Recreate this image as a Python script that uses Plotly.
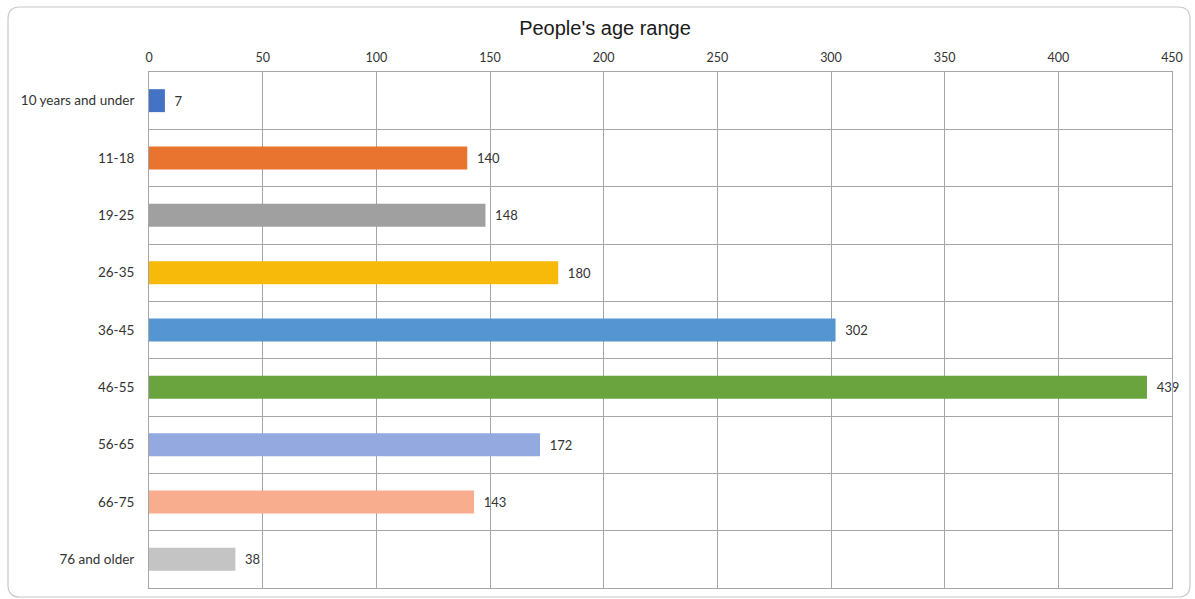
import plotly.graph_objects as go

categories = ["10 years and under", "11-18", "19-25", "26-35", "36-45",
              "46-55", "56-65", "66-75", "76 and older"]
values = [7, 140, 148, 180, 302, 439, 172, 143, 38]
colors = ["#4472C4", "#E8742F", "#A0A0A0", "#F7BA0B", "#5596D2",
          "#6AA43F", "#93A9E0", "#F7AD8E", "#C4C4C4"]
x_ticks = [0, 50, 100, 150, 200, 250, 300, 350, 400, 450]

W, H = 1195, 599
ml, mr, mt, mb = 149, 23, 72, 11
pw, ph = W - ml - mr, H - mt - mb

fig = go.Figure(go.Bar(
    y=categories, x=values, orientation="h",
    marker=dict(color=colors, line=dict(width=0)),
    text=values, texttemplate="\u00a0\u00a0%{x}", textposition="outside",
    textfont=dict(family="Lato", size=13, color="#333333"),
    constraintext="none", cliponaxis=False, hoverinfo="skip",
))

# chart border (rounded) in paper coordinates
x0 = (8 - ml) / pw
x1 = (1190 - ml) / pw
y1 = (H - mb - 7) / ph
y0 = (H - mb - 597) / ph
rx, ry = 12 / pw, 12 / ph
path = (f"M {x0+rx},{y1} L {x1-rx},{y1} Q {x1},{y1} {x1},{y1-ry} "
        f"L {x1},{y0+ry} Q {x1},{y0} {x1-rx},{y0} L {x0+rx},{y0} "
        f"Q {x0},{y0} {x0},{y0+ry} L {x0},{y1-ry} Q {x0},{y1} {x0+rx},{y1} Z")

fig.update_layout(
    width=W, height=H,
    margin=dict(l=ml, r=mr, t=mt, b=mb),
    paper_bgcolor="white", plot_bgcolor="white",
    title=dict(text="People's age range", x=605 / W, xanchor="center",
               y=1 - 28 / H, yanchor="middle",
               font=dict(family="Liberation Sans", size=20, color="#1a1a1a")),
    bargap=0.6,
    showlegend=False,
    shapes=[dict(type="path", path=path, xref="paper", yref="paper",
                 line=dict(color="#C8C8C8", width=1.2), layer="below")],
    xaxis=dict(side="top", range=[0, 450], tickvals=x_ticks,
               showgrid=True, gridcolor="#A6A6A6", gridwidth=1,
               showline=True, linecolor="#A6A6A6", mirror=True,
               zeroline=False, ticks="", ticklen=0, ticklabelstandoff=4,
               tickfont=dict(family="Lato", size=12.5, color="#333333")),
    yaxis=dict(categoryorder="array", categoryarray=categories,
               autorange="reversed", tickson="boundaries",
               showgrid=True, gridcolor="#A6A6A6", gridwidth=1,
               showline=True, linecolor="#A6A6A6", mirror=True,
               ticks="", ticklabelstandoff=11,
               tickfont=dict(family="Lato", size=13.5, color="#333333")),
)

fig.write_html("out.html")
